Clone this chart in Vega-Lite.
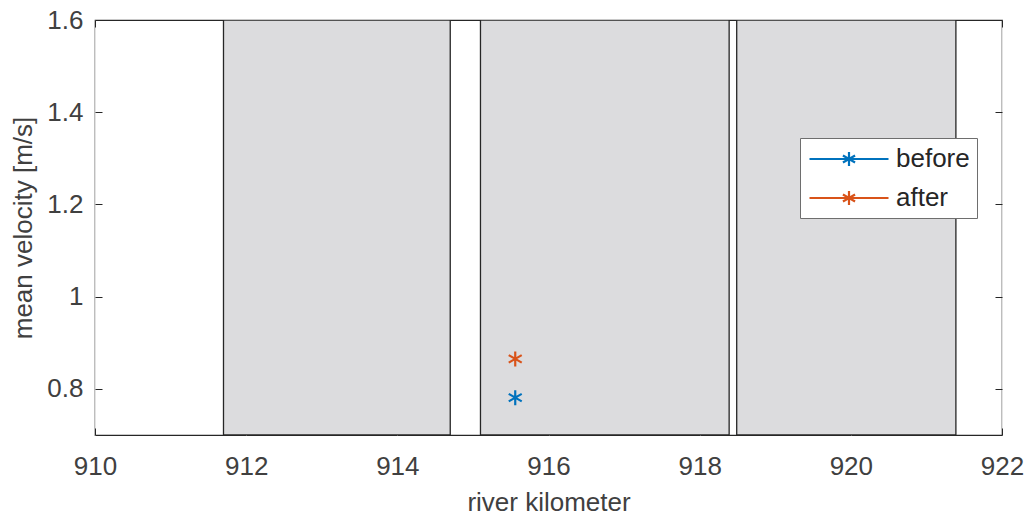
{
  "$schema": "https://vega.github.io/schema/vega-lite/v6.json",
  "width": 907,
  "height": 415,
  "autosize": {"type": "none"},
  "padding": {"left": 95, "top": 20, "right": 31, "bottom": 80},
  "background": "white",
  "config": {
    "font": "Liberation Sans",
    "view": {"stroke": "#262626", "strokeWidth": 1.2},
    "axis": {
      "labelFont": "Liberation Sans",
      "titleFont": "Liberation Sans",
      "labelFontSize": 26,
      "titleFontSize": 26,
      "labelColor": "#404040",
      "titleColor": "#404040",
      "titleFontWeight": "normal",
      "tickColor": "#262626",
      "tickSize": -7,
      "labelFlush": false,
      "domain": false,
      "gridColor": "#e3e3e3",
      "gridWidth": 1
    }
  },
  "datasets": {
    "regions": [
      {"start": 911.7, "end": 914.7},
      {"start": 915.1, "end": 918.39},
      {"start": 918.49, "end": 921.39}
    ],
    "points": [
      {"km": 915.56, "velocity": 0.781, "series": "before"},
      {"km": 915.56, "velocity": 0.865, "series": "after"}
    ]
  },
  "layer": [
    {
      "data": {"name": "regions"},
      "mark": {"type": "rect", "fill": "#dcdcde", "stroke": "#262626", "strokeWidth": 1.3, "clip": true},
      "encoding": {
        "x": {"field": "start", "type": "quantitative",
              "scale": {"domain": [910, 922], "nice": false, "zero": false},
              "axis": {"orient": "bottom", "values": [910, 912, 914, 916, 918, 920, 922], "title": "river kilometer", "labelPadding": 25, "titlePadding": 10}},
        "x2": {"field": "end"},
        "y": {"datum": 0.7, "type": "quantitative",
              "scale": {"domain": [0.7, 1.6], "nice": false, "zero": false},
              "axis": {"orient": "left", "values": [0.8, 1, 1.2, 1.4, 1.6], "format": "~g", "title": "mean velocity [m/s]", "labelPadding": 19, "titlePadding": 10}},
        "y2": {"datum": 1.6}
      }
    },
    {
      "data": {"name": "points"},
      "mark": {"type": "point", "filled": false, "strokeWidth": 2.2, "size": 225, "opacity": 1,
               "shape": "M0,-1V1M-0.866,-0.5L0.866,0.5M-0.866,0.5L0.866,-0.5"},
      "encoding": {
        "x": {"field": "km", "type": "quantitative",
              "scale": {"domain": [910, 922], "nice": false, "zero": false},
              "axis": {"orient": "top", "values": [910, 912, 914, 916, 918, 920, 922], "labels": false, "title": null, "grid": false}},
        "y": {"field": "velocity", "type": "quantitative",
              "scale": {"domain": [0.7, 1.6], "nice": false, "zero": false},
              "axis": {"orient": "right", "values": [0.8, 1, 1.2, 1.4, 1.6], "labels": false, "title": null, "grid": false}},
        "color": {
          "field": "series", "type": "nominal",
          "scale": {"domain": ["before", "after"], "range": ["#0072BD", "#D95319"]},
          "legend": {
            "title": null,
            "orient": "none",
            "legendX": 705,
            "legendY": 118,
            "fillColor": "white",
            "strokeColor": "#6e6e6e",
            "padding": 7,
            "rowPadding": 12,
            "labelFontSize": 26,
            "labelFont": "Liberation Sans",
            "labelColor": "#262626",
            "labelOffset": 33,
            "symbolSize": 625,
            "symbolStrokeWidth": 2.2,
            "symbolOffset": 28,
            "symbolType": "M-3.16,0H3.16M0,-0.56V0.56M-0.485,-0.28L0.485,0.28M-0.485,0.28L0.485,-0.28",
            "encode": {
              "symbols": {"update": {"shape": {"value": "M-3.16,0H3.16M0,-0.56V0.56M-0.485,-0.28L0.485,0.28M-0.485,0.28L0.485,-0.28"}, "fill": {"value": "transparent"}}}
            }
          }
        }
      }
    }
  ],
  "resolve": {"axis": {"x": "independent", "y": "independent"}}
}
